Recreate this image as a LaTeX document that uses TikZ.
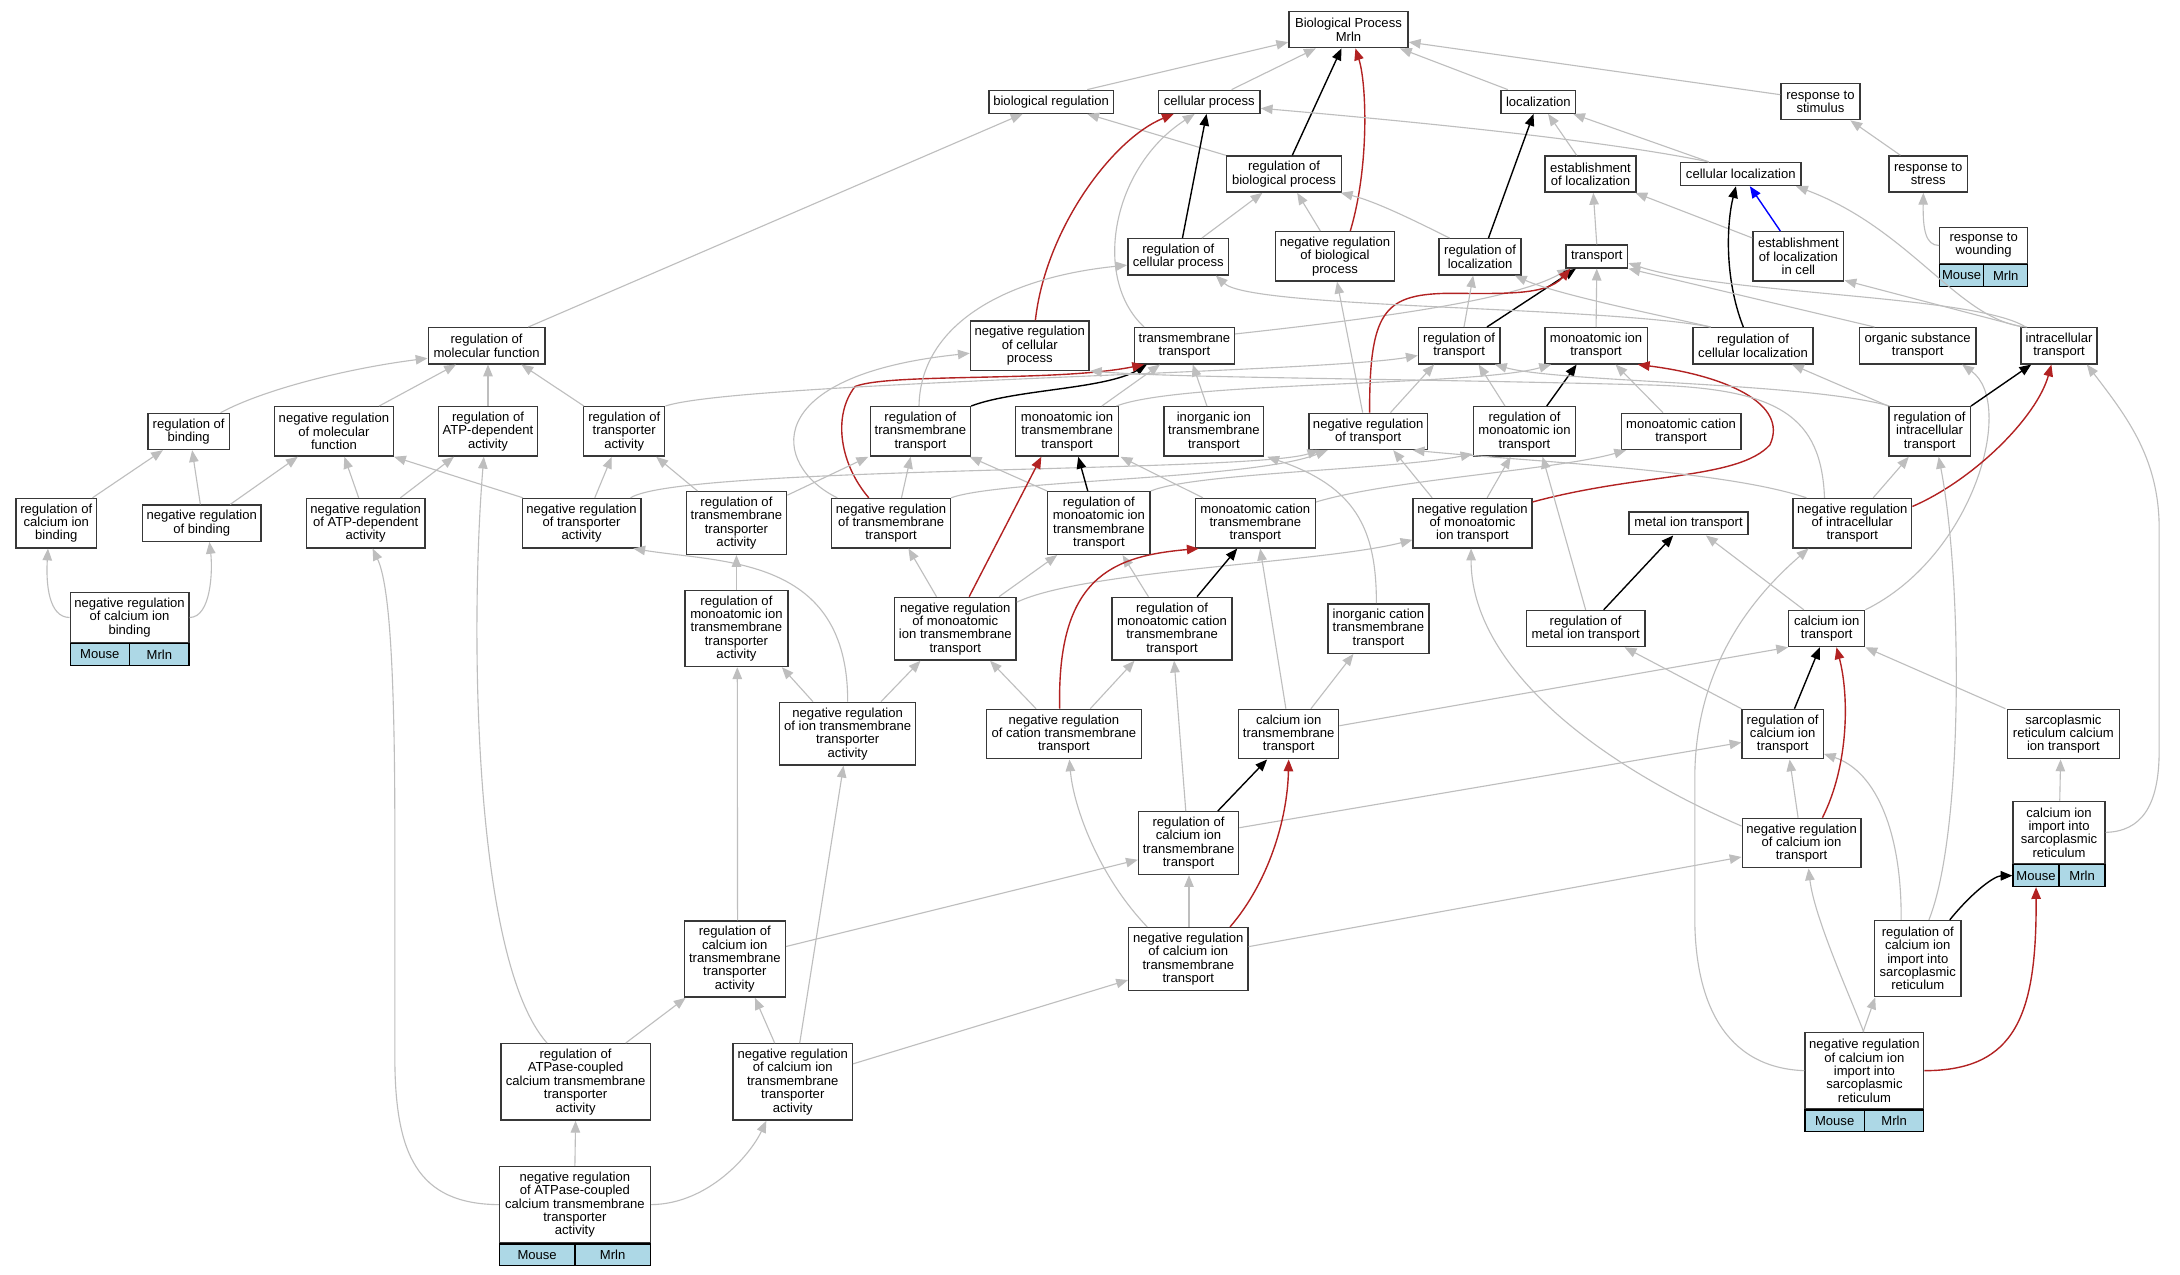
\documentclass[tikz,border=0pt]{standalone}
\usepackage{fontspec}
\setmainfont{Liberation Sans}
\usetikzlibrary{arrows.meta,calc}
\definecolor{eg}{RGB}{190,190,190}
\definecolor{fb}{RGB}{178,34,34}
\definecolor{lb}{RGB}{173,216,230}
\newcommand\gofont{\fontsize{9.4}{9.6}\selectfont}
\newcommand\gonode[6]{\node[box,minimum width=#4pt,minimum height=#5pt] (#1) at (#2,#3) {#6};}
\newcommand\gocells[2]{%
 \node[cell,minimum width=#2pt/2,anchor=north west] (#1m) at (#1.south west) {Mouse};
 \node[cell,minimum width=#2pt/2,anchor=north east] (#1r) at (#1.south east) {Mrln};}
\begin{document}
\begin{tikzpicture}[x=1pt,y=-1pt,
 box/.style={draw=black!78, line width=1pt, fill=white, inner sep=0pt, align=center, font=\gofont},
 cell/.style={draw=black, line width=0.9pt, fill=lb, inner sep=0pt, font=\gofont, minimum height=15.7pt},
 egray/.style={draw=eg, line width=0.8pt, -{Triangle[length=8.5pt,width=6.8pt]}},
 eblack/.style={draw=black, line width=1pt, -{Triangle[length=8.5pt,width=6.8pt]}},
 ered/.style={draw=fb, line width=1pt, -{Triangle[length=8.5pt,width=6.8pt]}},
 eblue/.style={draw=blue, line width=1pt, -{Triangle[length=8.5pt,width=6.8pt]}}]
\fill[white] (0,0) rectangle (1568,917);
\useasboundingbox (0,0) rectangle (1568,917);
% nodes
\gonode{BP}{969.9}{21.3}{85.7}{26}{Biological Process\\Mrln}
\gonode{BR}{756}{73.2}{89.4}{16.5}{biological regulation}
\gonode{CP}{869.8}{73.2}{73}{16.5}{cellular process}
\gonode{LOC}{1106.5}{73.2}{53.6}{16.5}{localization}
\gonode{RS}{1309.4}{73.1}{56.9}{26}{response to\\stimulus}
\gonode{RBP}{923.5}{125.2}{82.7}{26}{regulation of\\biological process}
\gonode{EL}{1144}{125.2}{65.6}{26}{establishment\\of localization}
\gonode{CL}{1252.1}{125.2}{86.4}{16.5}{cellular localization}
\gonode{RSt}{1386.9}{125.2}{56.6}{26}{response to\\stress}
\gonode{RCP}{847.5}{184.7}{72.6}{26}{regulation of\\cellular process}
\gonode{NRBP}{960.2}{184.4}{85.7}{35.5}{negative regulation\\of biological\\process}
\gonode{RL}{1064.6}{184.7}{59}{26}{regulation of\\localization}
\gonode{TR}{1148.5}{184.5}{44.5}{16.5}{transport}
\gonode{ELC}{1293.5}{184.4}{65.3}{35.5}{establishment\\of localization\\in cell}
\gonode{RW}{1426.8}{176.55}{63.3}{25.7}{response to\\wounding}
\gocells{RW}{63.3}
\gonode{RMF}{350}{248.7}{84}{26}{regulation of\\molecular function}
\gonode{NRCP}{740.7}{248.6}{85.4}{35.5}{negative regulation\\of cellular\\process}
\gonode{TT}{851.9}{248.7}{72}{26}{transmembrane\\transport}
\gonode{RTr}{1049.5}{248.7}{58.5}{26}{regulation of\\transport}
\gonode{MIT}{1148}{248.7}{73.7}{26}{monoatomic ion\\transport}
\gonode{RCL}{1260.9}{248.7}{86.4}{26}{regulation of\\cellular localization}
\gonode{OST}{1379.3}{248.7}{83.7}{26}{organic substance\\transport}
\gonode{IT}{1481}{248.7}{54.5}{26}{intracellular\\transport}
\gonode{RB}{135.7}{310.3}{58.5}{26}{regulation of\\binding}
\gonode{NRMF}{240.2}{310.3}{85.4}{35.5}{negative regulation\\of molecular\\function}
\gonode{RATP}{351}{310.3}{71.3}{35.5}{regulation of\\ATP-dependent\\activity}
\gonode{RTA}{449}{310.3}{58.3}{35.5}{regulation of\\transporter\\activity}
\gonode{RTT}{662}{310.3}{72}{35.5}{regulation of\\transmembrane\\transport}
\gonode{MITT}{767.5}{310.3}{74}{35.5}{monoatomic ion\\transmembrane\\transport}
\gonode{IITT}{873.1}{310.3}{71.7}{35.5}{inorganic ion\\transmembrane\\transport}
\gonode{NRT}{984.1}{310.3}{85.4}{26}{negative regulation\\of transport}
\gonode{RMIT}{1096.5}{310.3}{73.7}{35.5}{regulation of\\monoatomic ion\\transport}
\gonode{MCT}{1209.1}{310.3}{86}{26}{monoatomic cation\\transport}
\gonode{RIT}{1387.9}{310.3}{58.6}{35.5}{regulation of\\intracellular\\transport}
\gonode{RCIB}{40.5}{376.3}{58.2}{35.5}{regulation of\\calcium ion\\binding}
\gonode{NRB}{145.1}{376.3}{85.4}{26}{negative regulation\\of binding}
\gonode{NRATP}{263}{376.3}{85.4}{35.5}{negative regulation\\of ATP-dependent\\activity}
\gonode{NRTA}{418.3}{376.3}{85.4}{35.5}{negative regulation\\of transporter\\activity}
\gonode{RTTA}{529.7}{376.2}{72.3}{45.1}{regulation of\\transmembrane\\transporter\\activity}
\gonode{NRTT}{640.9}{376.3}{85.4}{35.5}{negative regulation\\of transmembrane\\transport}
\gonode{RMITT}{790.4}{376.2}{73.6}{45.1}{regulation of\\monoatomic ion\\transmembrane\\transport}
\gonode{MCTT}{902.9}{376.3}{86.4}{35.5}{monoatomic cation\\transmembrane\\transport}
\gonode{NRMIT}{1059.1}{376.3}{85.4}{35.5}{negative regulation\\of monoatomic\\ion transport}
\gonode{MeIT}{1214.5}{376.4}{85.4}{16.5}{metal ion transport}
\gonode{NRIT}{1332.3}{376.3}{85.4}{35.5}{negative regulation\\of intracellular\\transport}
\gonode{NRCIB}{93.2}{444.15}{85.4}{35.7}{negative regulation\\of calcium ion\\binding}
\gocells{NRCIB}{85.4}
\gonode{RMITTA}{529.7}{452}{74.3}{54.8}{regulation of\\monoatomic ion\\transmembrane\\transporter\\activity}
\gonode{NRMITT}{687.1}{452.2}{87.4}{45.1}{negative regulation\\of monoatomic\\ion transmembrane\\transport}
\gonode{RMCTT}{843}{452.2}{86.4}{45.1}{regulation of\\monoatomic cation\\transmembrane\\transport}
\gonode{ICTT}{991.5}{452.1}{72.7}{35.5}{inorganic cation\\transmembrane\\transport}
\gonode{RMeIT}{1140.5}{452.1}{85.4}{26}{regulation of\\metal ion transport}
\gonode{CIT}{1313.9}{452.1}{54.6}{26}{calcium ion\\transport}
\gonode{NRITA}{609.7}{527.7}{97.7}{45.1}{negative regulation\\of ion transmembrane\\transporter\\activity}
\gonode{NRCTT}{765.2}{528}{111.5}{35.5}{negative regulation\\of cation transmembrane\\transport}
\gonode{CITT}{926.9}{528}{71.9}{35.5}{calcium ion\\transmembrane\\transport}
\gonode{RCIT}{1282.2}{528}{58.3}{35.5}{regulation of\\calcium ion\\transport}
\gonode{SRCIT}{1484.1}{528}{80.3}{35.5}{sarcoplasmic\\reticulum calcium\\ion transport}
\gonode{RCITT}{854.9}{606.4}{72}{45.1}{regulation of\\calcium ion\\transmembrane\\transport}
\gonode{NRCIT}{1295.8}{606.4}{85.4}{35.5}{negative regulation\\of calcium ion\\transport}
\gonode{CIISR}{1481}{598.7}{66}{44.6}{calcium ion\\import into\\sarcoplasmic\\reticulum}
\gocells{CIISR}{66}
\gonode{RCITTA}{528.5}{689.8}{72.7}{54.8}{regulation of\\calcium ion\\transmembrane\\transporter\\activity}
\gonode{NRCITT}{854.7}{689.9}{85.7}{45.4}{negative regulation\\of calcium ion\\transmembrane\\transport}
\gonode{RCIISR}{1379.4}{689.5}{62.3}{54.8}{regulation of\\calcium ion\\import into\\sarcoplasmic\\reticulum}
\gonode{RATPC}{414}{778.2}{107.5}{54.9}{regulation of\\ATPase-coupled\\calcium transmembrane\\transporter\\activity}
\gonode{NRCITTA}{570.2}{778.2}{85.7}{54.9}{negative regulation\\of calcium ion\\transmembrane\\transporter\\activity}
\gonode{NRCIISR}{1341}{770.1}{85.4}{54.6}{negative regulation\\of calcium ion\\import into\\sarcoplasmic\\reticulum}
\gocells{NRCIISR}{85.4}
\gonode{NRATPC}{413.5}{866.45}{108.5}{54.7}{negative regulation\\of ATPase-coupled\\calcium transmembrane\\transporter\\activity}
\gocells{NRATPC}{108.5}
% edges
\draw[egray] ([xshift=26pt]BR.north) -- ([yshift=-9pt]BP.west);
\draw[egray] ([xshift=16pt]CP.north) -- ([xshift=-23.5pt]BP.south);
\draw[eblack] ([xshift=6pt]RBP.north) -- ([xshift=-5pt]BP.south);
\draw[ered] ([xshift=11pt]NRBP.north) .. controls (985,120) and (983,60) .. ([xshift=5pt]BP.south);
\draw[egray] ([xshift=-22pt]LOC.north) -- ([xshift=37pt]BP.south);
\draw[egray] ([yshift=5pt]RS.west) -- ([yshift=-9pt]BP.east);
\draw[egray] ([xshift=30pt]RMF.north) -- ([xshift=-20.5pt]BR.south);
\draw[egray] (RBP.north west) -- ([xshift=26pt]BR.south);
\draw[ered] ([xshift=4pt]NRCP.north) .. controls (752,165) and (800,100) .. ([xshift=-25.5pt]CP.south);
\draw[egray] ([xshift=-29pt]TT.north) .. controls (785,200) and (800,120) .. ([xshift=-10.5pt]CP.south);
\draw[eblack] ([xshift=3pt]RCP.north) -- ([xshift=-2pt]CP.south);
\draw[egray] ([xshift=-23pt]CL.north) .. controls (1150,100) and (1000,86) .. ([yshift=-4.7pt]CP.east);
\draw[egray] ([xshift=17pt]RCP.north) -- ([xshift=-15.5pt]RBP.south);
\draw[egray] ([xshift=-10.5pt]NRBP.north) -- ([xshift=9.5pt]RBP.south);
\draw[egray] ([xshift=8pt]RL.north west) .. controls (1020,160) and (990,145) .. ([xshift=-1pt]RBP.south east);
\draw[eblack] ([xshift=6pt]RL.north) -- ([xshift=-3.5pt]LOC.south);
\draw[egray] ([xshift=-10pt]EL.north) -- ([xshift=7pt]LOC.south);
\draw[egray] ([xshift=-23pt]CL.north) -- ([xshift=25pt]LOC.south);
\draw[egray] (TR.north) -- ([xshift=2pt]EL.south);
\draw[egray] ([yshift=-5pt]ELC.north west) -- ([xshift=-1pt]EL.south east);
\draw[eblack] ([xshift=-7pt]RCL.north) .. controls (1240,200) and (1242,160) .. ([xshift=-3.5pt]CL.south);
\draw[eblue] ([xshift=-13pt]ELC.north) -- ([xshift=6.5pt]CL.south);
\draw[egray] ([xshift=-23pt]IT.north) .. controls (1410,232) and (1375,165) .. ([xshift=-4pt]CL.south east);
\draw[egray] ([xshift=-20pt]RSt.north) -- ([xshift=21.5pt]RS.south);
\draw[egray] (RW.west) .. controls (1385,176.5) and (1383,165) .. ([xshift=-3.5pt]RSt.south);
\draw[egray] ([xshift=-26.5pt]IT.north) -- ([yshift=1pt]ELC.south east);
\draw[egray] ([yshift=-5pt]TT.north east) .. controls (1000,228) and (1090,215) .. ([xshift=3pt]TR.south west);
\draw[eblack] ([xshift=20pt]RTr.north) -- ([xshift=-15pt]TR.south);
\draw[ered] ([xshift=1pt]NRT.north) .. controls (985,225) and (995,212) .. (1040,211) .. controls (1080,211) and (1112,213) .. ([xshift=-19pt]TR.south);
\draw[egray] (MIT.north) -- (TR.south);
\draw[egray] ([xshift=-31pt]OST.north) -- (TR.south east);
\draw[egray] ([xshift=-24pt]IT.north) .. controls (1420,212) and (1240,212) .. ([yshift=4pt]TR.south east);
\draw[egray] ([xshift=3.5pt]RTr.north) -- ([xshift=-5pt]RL.south);
\draw[egray] ([xshift=-30.5pt]RCL.north) .. controls (1200,228) and (1120,212) .. ([xshift=25pt]RL.south);
\draw[egray] ([xshift=-30.5pt]RCL.north) .. controls (1150,220) and (900,222) .. ([xshift=27pt]RCP.south);
\draw[eblack] (RTT.north east) .. controls (730,280) and (795,280) .. ([xshift=-27pt]TT.south);
\draw[ered] ([xshift=-16pt]NRTT.north) .. controls (605,335) and (598,300) .. (615,278) .. controls (640,268) and (760,275) .. ([xshift=-29pt]TT.south);
\draw[egray] ([xshift=25pt]MITT.north) -- ([xshift=-17.5pt]TT.south);
\draw[egray] ([xshift=-5pt]IITT.north) -- ([xshift=6pt]TT.south);
\draw[egray] ([xshift=-2pt]MITT.north east) .. controls (850,274) and (1060,278) .. ([xshift=5pt]MIT.south west);
\draw[egray] (RTA.north east) .. controls (530,275) and (950,268) .. ([yshift=-7pt]RTr.west);
\draw[egray] ([xshift=-1pt]RTT.north) .. controls (662,235) and (720,200) .. ([yshift=-6pt]RCP.west);
\draw[egray] ([xshift=7.5pt]NRTT.north) -- ([xshift=-7pt]RTT.south);
\draw[egray] ([xshift=4.5pt]NRTT.north west) .. controls (555,335) and (545,270) .. ([yshift=-5.5pt]NRCP.west);
\draw[egray] (NRTT.north east) .. controls (720,345) and (900,345) .. ([xshift=14pt]NRT.south west);
\draw[egray] ([xshift=-8pt]NRTA.north east) .. controls (490,335) and (900,340) .. ([xshift=8pt]NRT.south west);
\draw[egray] ([xshift=16pt]NRT.north) -- ([xshift=-18pt]RTr.south);
\draw[egray] ([xshift=-4pt]NRT.north) -- ([xshift=1.5pt]NRBP.south);
\draw[eblack] ([xshift=16pt]RMIT.north) -- ([xshift=-14pt]MIT.south);
\draw[egray] ([xshift=-14pt]RMIT.north) -- ([xshift=14pt]RTr.south);
\draw[egray] ([xshift=-13pt]MCT.north) -- ([xshift=14pt]MIT.south);
\draw[ered] ([yshift=-3pt]NRMIT.north east) .. controls (1180,340) and (1250,345) .. (1273,320) .. controls (1287,290) and (1240,270) .. ([xshift=30pt]MIT.south);
\draw[egray] ([xshift=-29pt]NRMIT.north) -- ([xshift=18pt]NRT.south);
\draw[egray] ([xshift=10.5pt]NRMIT.north) -- ([xshift=-10pt]RMIT.south);
\draw[egray] (RMITT.north east) .. controls (860,340) and (1000,338) .. ([yshift=2pt]RMIT.south west);
\draw[eblack] ([xshift=-8pt]RMITT.north) -- ([xshift=8pt]MITT.south);
\draw[egray] (RMITT.north west) -- ([xshift=-1pt]RTT.south east);
\draw[egray] ([xshift=6pt]MCTT.north west) -- ([xshift=1pt]MITT.south east);
\draw[egray] ([yshift=-3pt]MCTT.north east) .. controls (1000,345) and (1120,338) .. ([xshift=4pt]MCT.south west);
\draw[ered] ([xshift=10pt]NRMITT.north) -- ([xshift=-18.5pt]MITT.south);
\draw[egray] ([xshift=-13.5pt]NRMITT.north) -- ([xshift=12.5pt]NRTT.south);
\draw[egray] ([xshift=31.5pt]NRMITT.north) -- ([xshift=-30pt]RMITT.south);
\draw[egray] ([yshift=-4pt]NRMITT.north east) .. controls (780,410) and (950,405) .. ([yshift=-12pt]NRMIT.west);
\draw[eblack] ([xshift=18pt]RMCTT.north) -- ([xshift=-13pt]MCTT.south);
\draw[egray] ([xshift=-17pt]RMCTT.north) -- ([xshift=17pt]RMITT.south);
\draw[egray] ([xshift=-1.5pt]ICTT.north) .. controls (990,380) and (975,350) .. ([xshift=2pt]IITT.south east);
\draw[eblack] ([xshift=13pt]RMeIT.north) -- ([xshift=-11pt]MeIT.south);
\draw[egray] (RMeIT.north) -- ([xshift=13pt]RMIT.south);
\draw[egray] ([xshift=-16.5pt]CIT.north) -- ([xshift=12.5pt]MeIT.south);
\draw[egray] (CIT.north east) .. controls (1420,400) and (1450,290) .. ([xshift=32pt]OST.south);
\draw[eblack] ([xshift=8.5pt]RCIT.north) -- ([xshift=-5pt]CIT.south);
\draw[egray] (RCIT.north west) -- ([xshift=28pt]RMeIT.south);
\draw[egray] ([xshift=-1pt]SRCIT.north west) -- (CIT.south east);
\draw[egray] ([yshift=6pt]CITT.east) -- (CIT.south west);
\draw[egray] ([xshift=-2pt]CITT.north) -- ([xshift=3.5pt]MCTT.south);
\draw[egray] ([xshift=16pt]CITT.north) -- ([xshift=-18pt]ICTT.south);
\draw[egray] (RMITTA.north) -- (RTTA.south);
\draw[egray] ([xshift=-28pt]RTTA.north) -- ([xshift=23pt]RTA.south);
\draw[egray] ([yshift=-3pt]RTTA.north east) -- ([xshift=-1pt]RTT.south west);
\draw[egray] ([xshift=-25pt]NRITA.north) -- ([xshift=-5pt]RMITTA.south east);
\draw[egray] ([xshift=24pt]NRITA.north) -- ([xshift=-25pt]NRMITT.south);
\draw[egray] (NRITA.north) .. controls (610,400) and (520,405) .. ([xshift=-6pt]NRTA.south east);
\draw[ered] ([xshift=-3pt]NRCTT.north) .. controls (760,415) and (800,400) .. ([xshift=3pt]MCTT.south west);
\draw[egray] ([xshift=-20pt]NRCTT.north) -- ([xshift=25pt]NRMITT.south);
\draw[egray] ([xshift=19pt]NRCTT.north) -- ([xshift=-27pt]RMCTT.south);
\draw[eblack] ([xshift=21pt]RCITT.north) -- ([xshift=-15.5pt]CITT.south);
\draw[egray] ([xshift=-2pt]RCITT.north) -- ([xshift=1.5pt]RMCTT.south);
\draw[egray] ([yshift=-12pt]RCITT.north east) -- ([yshift=-6pt]RCIT.west);
\draw[ered] ([xshift=30pt]NRCITT.north) .. controls (912,635) and (926,590) .. (CITT.south);
\draw[egray] ([xshift=0.5pt]NRCITT.north) -- ([xshift=0.3pt]RCITT.south);
\draw[egray] ([xshift=-29.5pt]NRCITT.north) .. controls (790,630) and (772,580) .. ([xshift=4pt]NRCTT.south);
\draw[egray] ([yshift=9pt]NRCITT.east) -- ([yshift=-10pt]NRCIT.west);
\draw[egray] ([xshift=2pt]RCITTA.north) -- ([xshift=0.6pt]RMITTA.south);
\draw[egray] ([yshift=9pt]RCITTA.east) -- ([yshift=-12pt]RCITT.west);
\draw[egray] ([xshift=-13pt]NRCITTA.north) -- ([xshift=14.5pt]RCITTA.south);
\draw[egray] ([xshift=5pt]NRCITTA.north) -- ([xshift=-3pt]NRITA.south);
\draw[egray] ([yshift=13pt]NRCITTA.east) -- ([yshift=-15pt]NRCITT.west);
\draw[egray] ([xshift=36pt]RATPC.north) -- ([xshift=1.5pt]RCITTA.south west);
\draw[egray] ([xshift=-20.5pt]RATPC.north) .. controls (340,690) and (338,450) .. ([xshift=-3pt]RATP.south);
\draw[egray] (NRATPC.north) -- (RATPC.south);
\draw[egray] (NRATPC.west) .. controls (300,866) and (284,830) .. (284,760) -- (284,600) .. controls (284,480) and (280,420) .. ([xshift=5pt]NRATP.south);
\draw[egray] (NRATPC.east) .. controls (510,866) and (540,830) .. ([xshift=-19pt]NRCITTA.south);
\draw[egray] (NRCIB.west) .. controls (35,444) and (33,420) .. ([xshift=-6pt]RCIB.south);
\draw[egray] (NRCIB.east) .. controls (152,444) and (153,410) .. ([xshift=5.5pt]NRB.south);
\draw[egray] ([xshift=26pt]RCIB.north) -- ([xshift=-18.5pt]RB.south);
\draw[egray] ([xshift=-1pt]NRB.north) -- ([xshift=2.5pt]RB.south);
\draw[egray] ([xshift=20.5pt]NRB.north) -- ([xshift=-26pt]NRMF.south);
\draw[egray] ([xshift=-5pt]NRATP.north) -- ([xshift=7.5pt]NRMF.south);
\draw[egray] ([xshift=25pt]NRATP.north) -- ([xshift=-24.5pt]RATP.south);
\draw[egray] ([xshift=1pt]NRTA.north west) -- (NRMF.south east);
\draw[egray] ([xshift=9.5pt]NRTA.north) -- ([xshift=-9pt]RTA.south);
\draw[egray] ([xshift=23pt]RB.north) .. controls (190,280) and (250,265) .. ([yshift=-9pt]RMF.west);
\draw[egray] ([xshift=32.5pt]NRMF.north) -- ([xshift=-22pt]RMF.south);
\draw[egray] (RATP.north) -- ([xshift=1pt]RMF.south);
\draw[egray] ([xshift=-29pt]RTA.north) -- ([xshift=25pt]RMF.south);
\draw[ered] ([yshift=12pt]NRIT.east) .. controls (1420,345) and (1465,300) .. ([xshift=-5.5pt]IT.south);
\draw[egray] ([xshift=15pt]NRIT.north) -- ([xshift=-15pt]RIT.south);
\draw[egray] ([xshift=-33pt]NRIT.north) .. controls (1240,338) and (1100,332) .. ([xshift=32pt]NRT.south);
\draw[egray] ([xshift=-20pt]NRIT.north) .. controls (1310,300) and (1280,280) .. (1190,277) .. controls (1000,272) and (850,272) .. (NRCP.south east);
\draw[eblack] (RIT.north east) -- ([xshift=-20pt]IT.south);
\draw[egray] ([xshift=1pt]RIT.north west) .. controls (1300,275) and (1120,275) .. ([xshift=-4pt]RTr.south east);
\draw[egray] (RIT.north west) -- ([xshift=28pt]RCL.south);
\draw[egray] (CIISR.east) .. controls (1540,598) and (1553,580) .. (1553,540) -- (1553,380) .. controls (1553,330) and (1530,300) .. ([xshift=20pt]IT.south);
\draw[egray] ([xshift=0.5pt]CIISR.north) -- ([xshift=-2pt]SRCIT.south);
\draw[eblack] ([xshift=23pt]RCIISR.north) .. controls (1420,640) and (1435,630) .. (CIISRm.west);
\draw[egray] ([xshift=-12pt]RCIISR.north) .. controls (1368,600) and (1350,555) .. ([yshift=4pt]RCIT.south east);
\draw[egray] ([xshift=8pt]RCIISR.north) .. controls (1412,600) and (1412,420) .. ([xshift=6.5pt]RIT.south);
\draw[ered] (NRCIISR.east) .. controls (1450,770) and (1465,730) .. (CIISRm.south);
\draw[egray] ([xshift=-1pt]NRCIISR.north) -- ([xshift=1pt]RCIISR.south west);
\draw[egray] ([xshift=-0.5pt]NRCIISR.north) .. controls (1330,715) and (1305,660) .. ([xshift=5pt]NRCIT.south);
\draw[egray] (NRCIISR.west) .. controls (1240,768) and (1219,720) .. (1219,660) -- (1219,560) .. controls (1219,480) and (1260,430) .. ([xshift=-31.5pt]NRIT.south);
\draw[ered] ([xshift=15pt]NRCIT.north) .. controls (1330,550) and (1330,500) .. ([xshift=7pt]CIT.south);
\draw[egray] ([xshift=-2.5pt]NRCIT.north) -- ([xshift=5pt]RCIT.south);
\draw[egray] ([yshift=-6pt]NRCIT.north west) .. controls (1150,550) and (1058,480) .. ([xshift=-1pt]NRMIT.south);
\end{tikzpicture}
\end{document}
